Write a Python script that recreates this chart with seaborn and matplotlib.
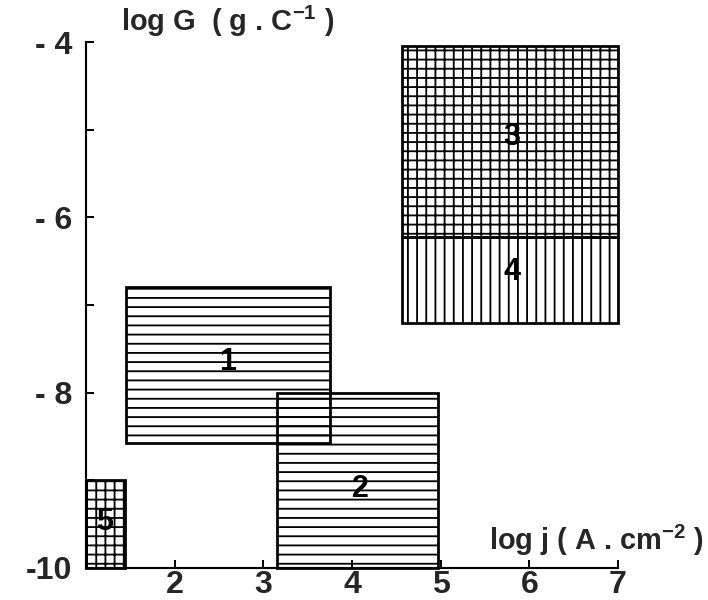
import matplotlib
matplotlib.use('Agg')
import matplotlib.pyplot as plt
import seaborn as sns
import pandas as pd

# ---- data ----
regions = ['1', '2', '3', '4', '5']
x_left = [1.45, 3.15, 4.56, 4.56, 1.0]
x_right = [3.75, 4.97, 7.0, 7.0, 1.44]
y_bottom = [-8.57, -10.0, -6.22, -7.2, -10.0]
y_top = [-6.8, -8.0, -4.04, -6.22, -9.0]
label_x = [2.6, 4.1, 5.8, 5.8, 1.21]
label_y = [-7.65, -9.1, -5.08, -6.62, -9.47]
hatches = ['--', '--', '++', '||', '++']

x_ticks = [2, 3, 4, 5, 6, 7]
x_tick_labels = ['2', '3', '4', '5', '6', '7']
y_ticks = [-10, -8, -6, -4]
y_tick_labels = ['-10', '- 8', '- 6', '- 4']
y_minor = [-9, -7, -5]

df = pd.DataFrame({'region': regions, 'x0': x_left, 'x1': x_right,
                   'y0': y_bottom, 'y1': y_top, 'lx': label_x, 'ly': label_y,
                   'hatch': hatches})

sns.set_style('ticks')
FONT = 'Liberation Sans'
plt.rcParams['font.family'] = [FONT, 'DejaVu Sans']
plt.rcParams['mathtext.fontset'] = 'custom'
plt.rcParams['mathtext.rm'] = FONT + ':bold'
plt.rcParams['mathtext.bf'] = FONT + ':bold'
plt.rcParams['mathtext.default'] = 'bf'
plt.rcParams['hatch.linewidth'] = 1.2

DPI = 110
fig = plt.figure(figsize=(708 / DPI, 600 / DPI), dpi=DPI)
ax = fig.add_axes([86 / 708, 1 - 568 / 600, (618 - 86) / 708, (568 - 42) / 600])

for _, r in df.iterrows():
    ax.bar(r['x0'], r['y1'] - r['y0'], width=r['x1'] - r['x0'], bottom=r['y0'],
           align='edge', facecolor='none', edgecolor='black', hatch=r['hatch'],
           linewidth=1.8, clip_on=False, zorder=2)
    ax.text(r['lx'], r['ly'], r['region'], ha='center', va='center',
            fontsize=20, fontweight='bold', color='black', zorder=3)

ax.set_xlim(1, 7)
ax.set_ylim(-10, -4)
ax.set_xticks(x_ticks)
ax.set_xticklabels(x_tick_labels)
ax.set_yticks(y_ticks)
ax.set_yticklabels(y_tick_labels)
ax.set_yticks(y_minor, minor=True)
ax.tick_params(axis='both', which='both', direction='in', width=1.3, color='black')
ax.tick_params(axis='both', which='major', length=5, labelsize=21)
ax.tick_params(axis='y', which='minor', length=5)
ax.tick_params(axis='x', pad=1.5)
ax.tick_params(axis='y', pad=9)
for lab in ax.get_xticklabels() + ax.get_yticklabels():
    lab.set_fontweight('bold')

sns.despine(ax=ax)
for s in ['left', 'bottom']:
    ax.spines[s].set_linewidth(1.4)
    ax.spines[s].set_color('black')

ax.text(1.40, -3.77, r'log G  ( g . C$^{-1}$ )', ha='left', va='center',
        fontsize=19, fontweight='bold', clip_on=False)
ax.text(5.55, -9.68, r'log j ( A . cm$^{-2}$ )', ha='left', va='center',
        fontsize=19, fontweight='bold', clip_on=False)

fig.savefig('out.png', dpi=DPI)
